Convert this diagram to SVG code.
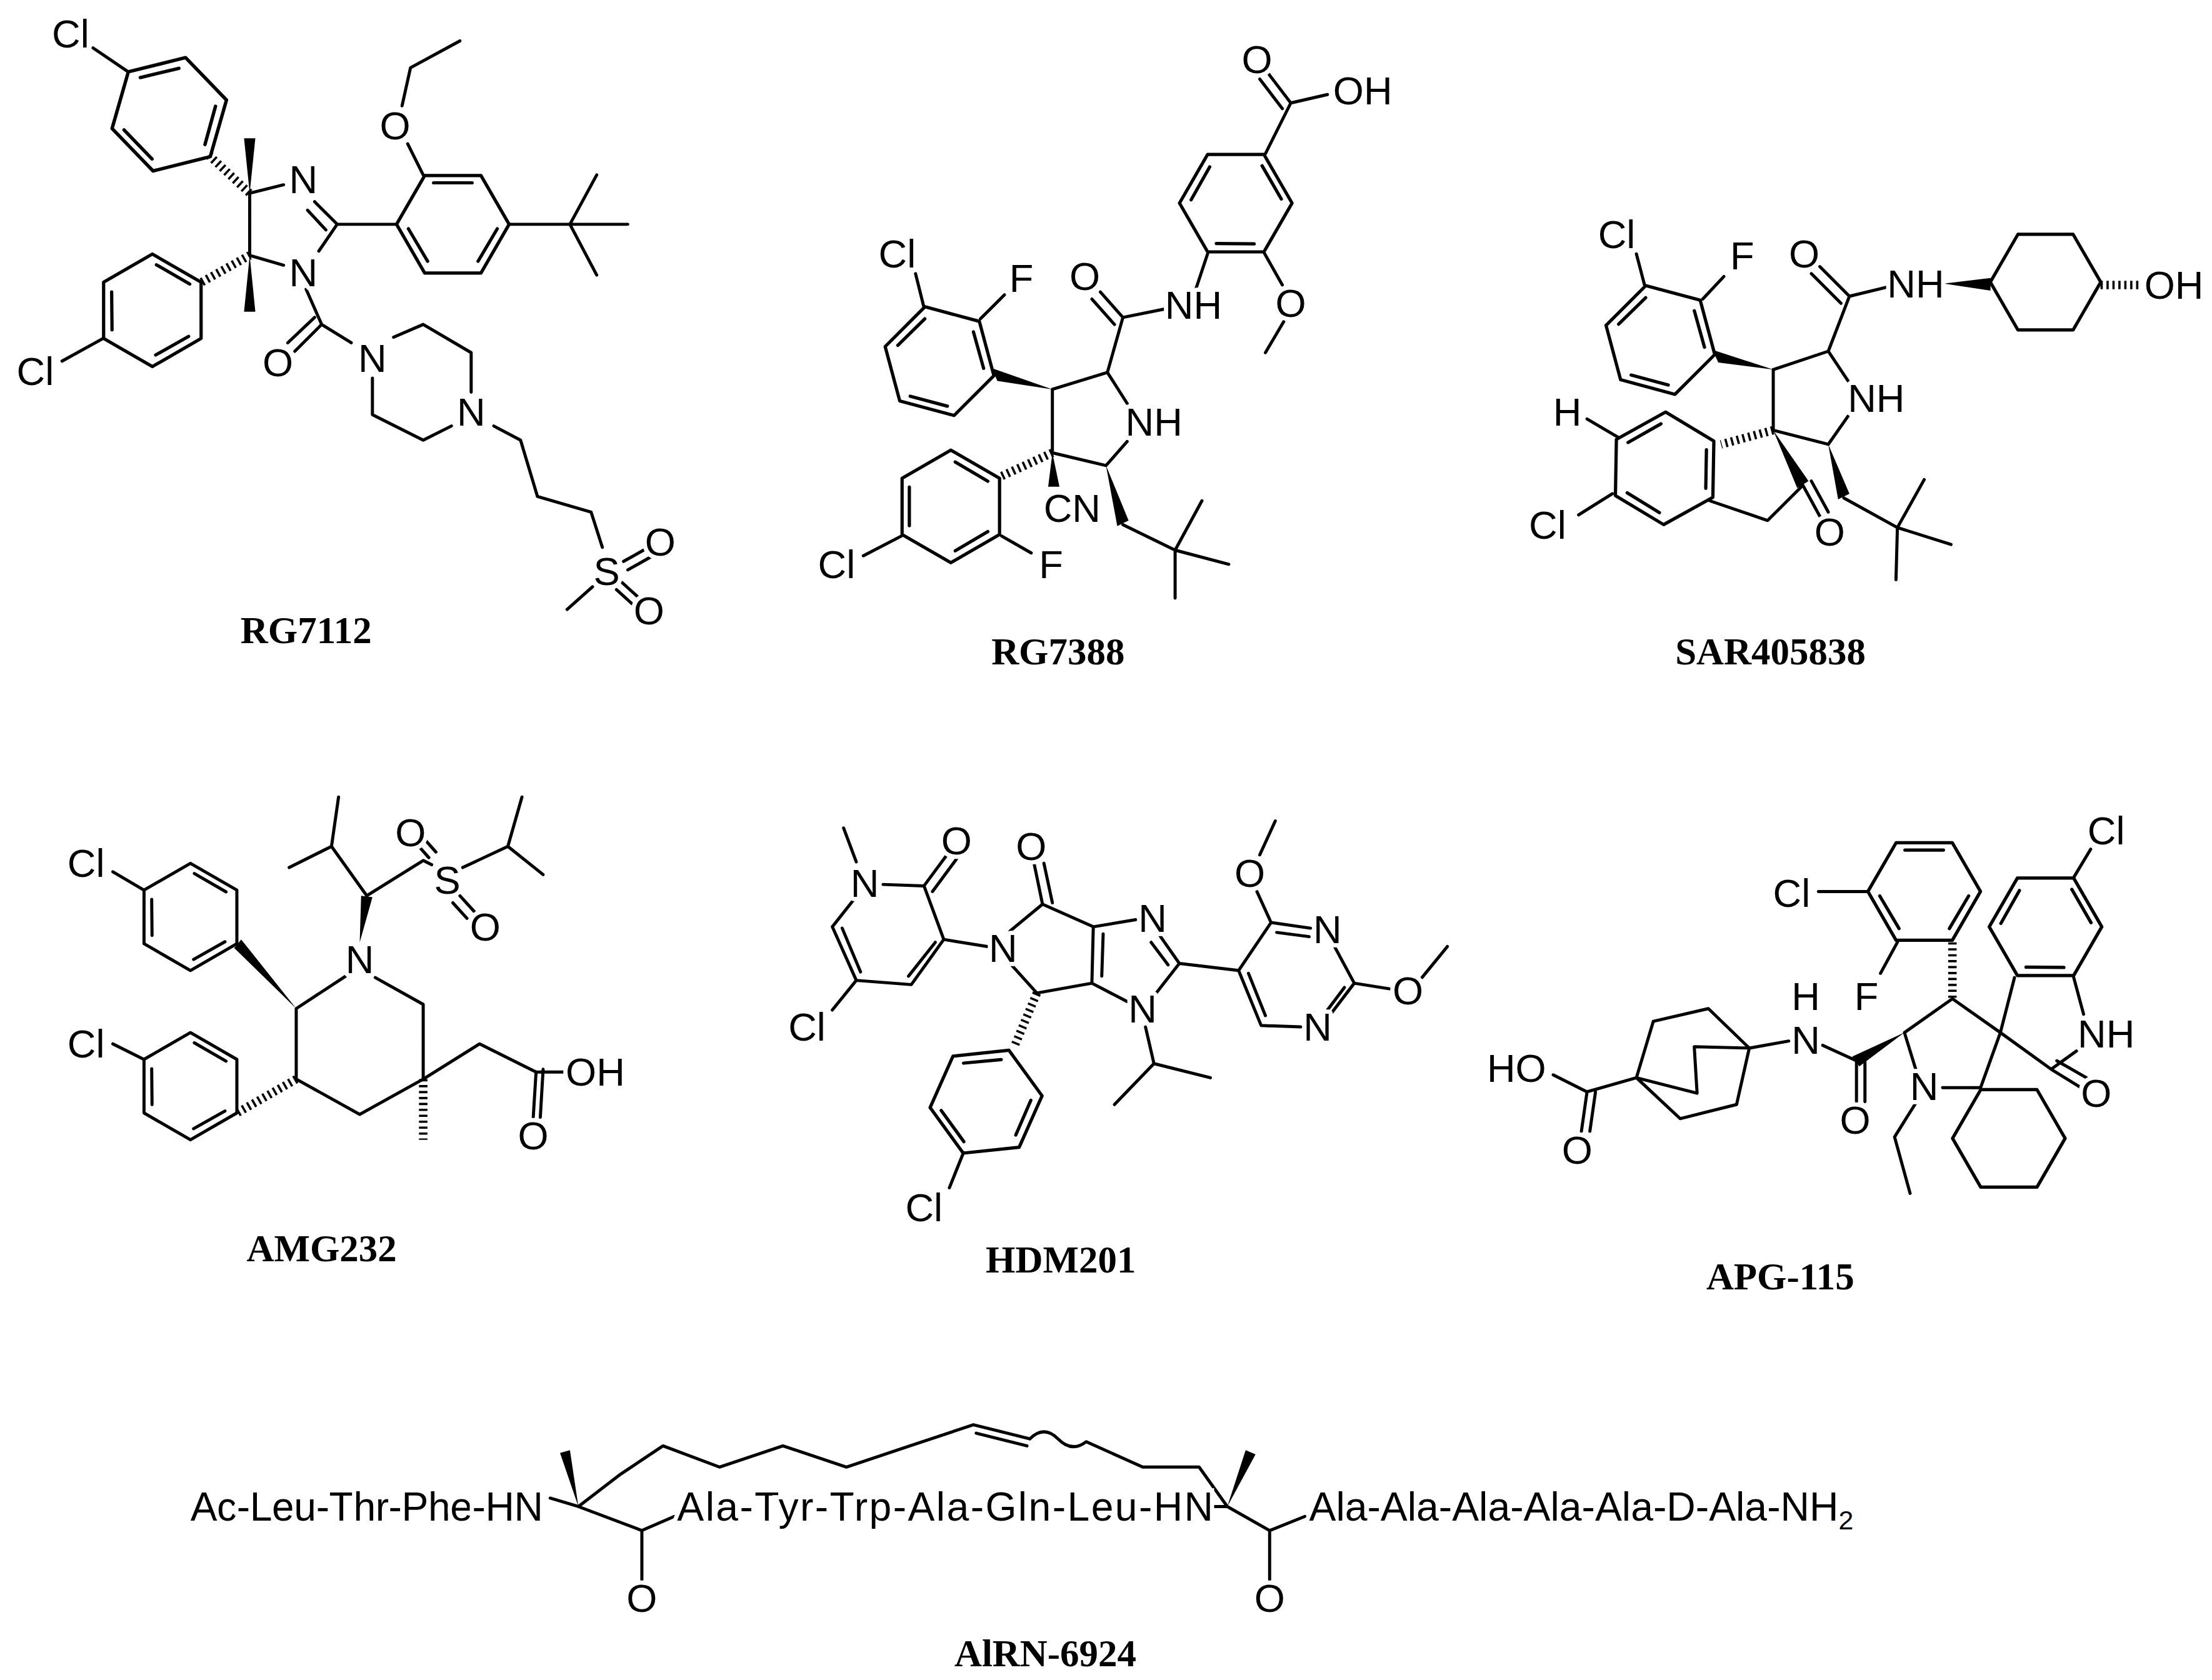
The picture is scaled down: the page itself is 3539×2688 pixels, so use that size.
<svg xmlns="http://www.w3.org/2000/svg" xmlns:xlink="http://www.w3.org/1999/xlink" width="3539" height="2688" viewBox="0 0 3539 2688">
<style>
.b{stroke:#000;stroke-width:2.2;fill:none;stroke-linecap:round;stroke-linejoin:round}
.h{stroke:#000;stroke-width:6;fill:none;stroke-dasharray:1.6 2.6}
.t{font-family:"Liberation Sans",Arial,sans-serif;font-size:28px;fill:#000;text-anchor:middle;paint-order:stroke;stroke:#fff;stroke-width:6px;stroke-linejoin:round}
.p{font-family:"Liberation Sans",Arial,sans-serif;font-size:28.5px;fill:#000;paint-order:stroke;stroke:#fff;stroke-width:6px}
.n{font-family:"Liberation Serif","Times New Roman",serif;font-size:27px;font-weight:bold;fill:#000;text-anchor:middle}
.w{fill:#000;stroke:none}
</style>
<defs>
<g id="ar"><polygon class="b" points="38,0 19,32.9 -19,32.9 -38,0 -19,-32.9 19,-32.9"/><path class="b" d="M30,3 L17,25 M-17,25 L-30,3 M-13,-28 L13,-28"/></g>
<g id="hx"><polygon class="b" points="38,0 19,32.9 -19,32.9 -38,0 -19,-32.9 19,-32.9"/></g>
</defs>
<rect width="3539" height="2688" fill="#fff"/>
<g transform="scale(2.257)">
<g id="RG7112">
<use xlink:href="#ar" transform="translate(120,81) rotate(-134) scale(1.1)"/>
<use xlink:href="#ar" transform="translate(108,220) rotate(30) scale(1.05)"/>
<use xlink:href="#ar" transform="translate(321,159) scale(1.05)"/>
<path class="b" d="M91,51 L66,34 M177,137 L201,131 M223,143 L239,159 M218,149 L231,163 M239,159 L226,178 M201,188 L177,181 L177,137 M239,159 L281,159 M300,124 L289,102 M285,75 L291,48 L326,29 M361,159 L404,159 L445,159 M404,159 L423,124 M404,159 L423,195 M217,205 L228,230 L249,243 M228,230 L209,249 M223,225 L204,243 M279,239 L300,230 L334,250 L334,278 M320,302 L300,312 L264,294 L264,268 M350,302 L369,312 L381,352 L419,363 L427,388 M442,398 L458,389 M445,404 L461,395 M441,413 L452,423 M437,418 L448,428 M420,416 L402,432 M73,240 L44,256"/>
<path class="h" d="M148,110 L177,137 M143,200 L177,181"/>
<polygon class="w" points="177,137 173,98 181,98"/>
<polygon class="w" points="177,181 173,221 181,221"/>
<text class="t" x="50" y="24" dy=".35em">Cl</text>
<text class="t" x="215" y="127" dy=".35em">N</text>
<text class="t" x="215" y="193" dy=".35em">N</text>
<text class="t" x="280" y="89" dy=".35em">O</text>
<text class="t" x="197" y="257" dy=".35em">O</text>
<text class="t" x="264" y="254" dy=".35em">N</text>
<text class="t" x="334" y="292" dy=".35em">N</text>
<text class="t" x="430" y="405" dy=".35em">S</text>
<text class="t" x="468" y="384" dy=".35em">O</text>
<text class="t" x="460" y="433" dy=".35em">O</text>
<text class="t" x="25" y="263" dy=".35em">Cl</text>
<text class="n" x="217" y="456">RG7112</text>
</g>
<g id="RG7388">
<use xlink:href="#ar" transform="translate(666,256) rotate(-165) scale(1.05)"/>
<use xlink:href="#ar" transform="translate(876,144) rotate(60) scale(1.05)"/>
<use xlink:href="#ar" transform="translate(674,359) rotate(-90) scale(1.05)"/>
<path class="b" d="M655,218 L649,194 M695,226 L712,209 M746,276 L785,264 L796,225 L826,219 M796,225 L780,207 M790,230 L774,212 M848,204 L856,180 M897,109 L915,73 L941,67 M915,73 L899,52 M909,77 L893,56 M896,179 L909,202 M910,228 L897,250 M785,264 L799,286 M799,313 L784,330 L746,321 L746,276 M796,372 L833,390 L852,355 M833,390 L871,400 M833,390 L833,424 M639,380 L612,394 M710,380 L731,392"/>
<polygon class="w" points="746,276 703,261 707,270"/>
<polygon class="w" points="746,321 743,345 751,345"/>
<polygon class="w" points="784,330 792,373 800,369"/>
<path class="h" d="M746,321 L709,338"/>
<text class="t" x="636" y="180" dy=".35em">Cl</text>
<text class="t" x="724" y="197" dy=".35em">F</text>
<text class="t" x="769" y="196" dy=".35em">O</text>
<text class="t" x="846" y="216" dy=".35em">NH</text>
<text class="t" x="891" y="42" dy=".35em">O</text>
<text class="t" x="966" y="64" dy=".35em">OH</text>
<text class="t" x="915" y="215" dy=".35em">O</text>
<text class="t" x="818" y="299" dy=".35em">NH</text>
<text class="t" x="760" y="360" dy=".35em">CN</text>
<text class="t" x="593" y="400" dy=".35em">Cl</text>
<text class="t" x="745" y="400" dy=".35em">F</text>
<text class="n" x="750" y="471">RG7388</text>
</g>
<g id="SAR405838">
<use xlink:href="#ar" transform="translate(1177,241) rotate(-165) scale(1.05)"/>
<use xlink:href="#ar" transform="translate(1180,332) rotate(91) scale(1.05)"/>
<use xlink:href="#hx" transform="translate(1450,200) scale(1.03)"/>
<path class="b" d="M1166,203 L1160,180 M1207,212 L1222,196 M1257,262 L1296,249 L1311,210 L1340,203 M1311,210 L1290,189 M1305,215 L1284,194 M1296,249 L1310,270 M1310,295 L1296,315 L1257,305 L1257,262 M1307,353 L1345,374 L1364,340 M1345,374 L1383,386 M1345,374 L1344,411 M1147,310 L1125,297 M1143,350 L1119,365 M1212,355 L1253,369 L1278,344 L1290,366 M1284,341 L1296,363"/>
<polygon class="w" points="1257,262 1214,248 1218,257"/>
<polygon class="w" points="1378,201 1411,197 1411,206"/>
<polygon class="w" points="1296,315 1303,354 1311,350"/>
<polygon class="w" points="1257,305 1274,346 1282,341"/>
<path class="h" d="M1489,202 L1518,202 M1257,305 L1220,315"/>
<text class="t" x="1146" y="166" dy=".35em">Cl</text>
<text class="t" x="1235" y="181" dy=".35em">F</text>
<text class="t" x="1279" y="180" dy=".35em">O</text>
<text class="t" x="1358" y="201" dy=".35em">NH</text>
<text class="t" x="1541" y="202" dy=".35em">OH</text>
<text class="t" x="1330" y="282" dy=".35em">NH</text>
<text class="t" x="1111" y="292" dy=".35em">H</text>
<text class="t" x="1097" y="372" dy=".35em">Cl</text>
<text class="t" x="1297" y="377" dy=".35em">O</text>
<text class="n" x="1255" y="471">SAR405838</text>
</g>
<g id="AMG232">
<use xlink:href="#ar" transform="translate(135,650) rotate(30)"/>
<use xlink:href="#ar" transform="translate(135,770) rotate(30)"/>
<path class="b" d="M102,631 L80,618 M102,751 L80,740 M245,692 L210,715 L210,765 L255,790 L300,765 L300,712 L266,693 M260,635 L235,600 L205,615 M235,600 L240,565 M260,635 L300,610 L306,613 M328,615 L360,600 L385,620 M360,600 L370,565 M304,608 L296,599 M309,604 L301,595 M326,635 L336,646 M321,640 L331,651 M300,765 L340,740 L380,760 L378,792 M385,758 L383,792 M380,760 L403,760"/>
<polygon class="w" points="210,715 166,672 171,666"/>
<polygon class="w" points="255,668 256,635 264,636"/>
<path class="h" d="M210,765 L168,789 M300,765 L300,808"/>
<text class="t" x="61" y="612" dy=".35em">Cl</text>
<text class="t" x="61" y="740" dy=".35em">Cl</text>
<text class="t" x="255" y="680" dy=".35em">N</text>
<text class="t" x="317" y="624" dy=".35em">S</text>
<text class="t" x="291" y="590" dy=".35em">O</text>
<text class="t" x="344" y="657" dy=".35em">O</text>
<text class="t" x="378" y="805" dy=".35em">O</text>
<text class="t" x="422" y="760" dy=".35em">OH</text>
<text class="n" x="228" y="894">AMG232</text>
</g>
<g id="HDM201">
<use xlink:href="#ar" transform="translate(699,781) rotate(-126) scale(1.05)"/>
<path class="b" d="M598,587 L607,611 M626,627 L655,628 L669,666 L646,698 L607,695 L590,657 L605,638 M663,668 L644,692 M610,689 L597,658 M655,628 L672,605 M661,632 L678,609 M607,695 L590,716 M669,666 L700,671 M716,660 L739,641 L775,657 L774,697 L735,704 L717,684 M782,662 L781,692 M739,641 L733,612 M746,640 L740,612 M775,657 L805,652 M822,663 L836,683 M816,668 L828,684 M836,683 L818,706 M799,710 L774,697 M812,728 L818,754 L790,783 M818,754 L858,764 M683,817 L673,842 M836,683 L878,688 L901,654 L929,658 M946,671 L960,697 L944,718 M922,728 L894,727 L878,688 M905,661 L928,664 M953,700 L941,716 M885,690 L897,720 M901,654 L891,632 M893,606 L904,582 M960,697 L985,701 M1008,693 L1026,671"/>
<path class="h" d="M735,704 L719,742"/>
<text class="t" x="613" y="626" dy=".35em">N</text>
<text class="t" x="678" y="596" dy=".35em">O</text>
<text class="t" x="572" y="728" dy=".35em">Cl</text>
<text class="t" x="711" y="672" dy=".35em">N</text>
<text class="t" x="731" y="600" dy=".35em">O</text>
<text class="t" x="817" y="651" dy=".35em">N</text>
<text class="t" x="810" y="715" dy=".35em">N</text>
<text class="t" x="941" y="659" dy=".35em">N</text>
<text class="t" x="934" y="728" dy=".35em">N</text>
<text class="t" x="886" y="619" dy=".35em">O</text>
<text class="t" x="998" y="702" dy=".35em">O</text>
<text class="t" x="655" y="856" dy=".35em">Cl</text>
<text class="n" x="752" y="902">HDM201</text>
</g>
<g id="APG-115">
<use xlink:href="#ar" transform="translate(1364,632) scale(1.05)"/>
<use xlink:href="#ar" transform="translate(1450,657) rotate(60) scale(1.05)"/>
<use xlink:href="#hx" transform="translate(1424,807) scale(1.05)"/>
<path class="b" d="M1323,632 L1289,632 M1345,668 L1333,690 M1384,708 L1350,732 L1358,758 M1377,771 L1404,771 L1418,732 L1384,708 M1418,732 L1428,693 M1418,732 L1454,758 L1472,745 M1454,758 L1475,771 M1458,752 L1479,764 M1477,719 L1470,693 M1470,622 L1482,602 M1358,782 L1343,806 L1354,846 M1316,752 L1316,781 M1322,752 L1322,781 M1316,752 L1292,741 M1268,738 L1240,743 M1160,764 L1172,724 L1211,715 L1240,743 L1231,783 L1191,793 L1160,764 L1203,775 L1201,742 L1240,743 M1160,764 L1125,774 L1101,762 M1125,774 L1121,802 M1131,774 L1127,802"/>
<path class="h" d="M1384,668 L1384,708"/>
<polygon class="w" points="1350,732 1313,749 1318,756"/>
<text class="t" x="1270" y="633" dy=".35em">Cl</text>
<text class="t" x="1323" y="706" dy=".35em">F</text>
<text class="t" x="1364" y="770" dy=".35em">N</text>
<text class="t" x="1486" y="775" dy=".35em">O</text>
<text class="t" x="1493" y="733" dy=".35em">NH</text>
<text class="t" x="1493" y="589" dy=".35em">Cl</text>
<text class="t" x="1315" y="794" dy=".35em">O</text>
<text class="t" x="1280" y="737" dy=".35em">N</text>
<text class="t" x="1280" y="706" dy=".35em">H</text>
<text class="t" x="1075" y="757" dy=".35em">HO</text>
<text class="t" x="1118" y="815" dy=".35em">O</text>
<text class="n" x="1262" y="914">APG-115</text>
</g>
<g id="AIRN-6924">
<path class="b" d="M390,1062 L410,1068 L440,1045 L470,1025 L510,1040 L555,1025 L600,1040 L645,1025 L690,1010 L730,1020 M692,1016 L728,1025 M730,1020 Q740,1010 750,1020 T770,1022 L810,1040 L850,1040 L870,1068 M410,1068 L455,1085 L455,1120 M860,1068 L870,1068 L900,1085 L900,1120 M900,1085 L925,1075 M455,1085 L478,1075"/>
<polygon class="w" points="410,1068 397,1030 404,1028"/>
<polygon class="w" points="870,1068 883,1028 890,1031"/>
<text class="p" x="135" y="1078" textLength="250">Ac-Leu-Thr-Phe-HN</text>
<text class="p" x="480" y="1078" textLength="380">Ala-Tyr-Trp-Ala-Gln-Leu-HN</text>
<text class="p" x="928" y="1078">Ala-Ala-Ala-Ala-Ala-D-Ala-NH<tspan font-size="19" dy="6">2</tspan></text>
<text class="t" x="455" y="1133" dy=".35em">O</text>
<text class="t" x="900" y="1133" dy=".35em">O</text>
<text class="n" x="741" y="1181">AlRN-6924</text>
</g>
</g>
</svg>
